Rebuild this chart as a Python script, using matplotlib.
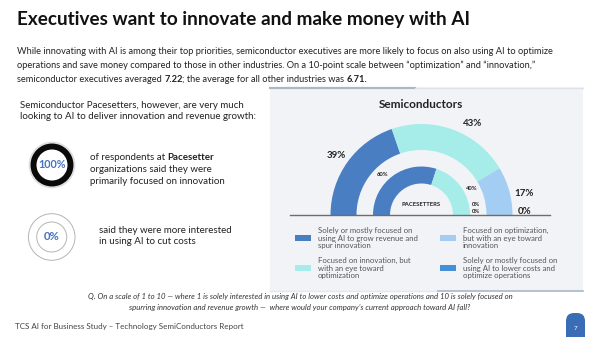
import matplotlib
matplotlib.use("Agg")
import matplotlib.pyplot as plt
from matplotlib.patches import Wedge, Rectangle, FancyBboxPatch, Circle

# ---------------- data ----------------
categories = [
    "Solely or mostly focused on\nusing AI to grow revenue and\nspur innovation",
    "Focused on innovation, but\nwith an eye toward\noptimization",
    "Focused on optimization,\nbut with an eye toward\ninnovation",
    "Solely or mostly focused on\nusing AI to lower costs and\noptimize operations",
]
semis_all = [39, 43, 17, 0]
pacesetters = [60, 40, 0, 0]
pacesetter_innovation = 100
pacesetter_cut_costs = 0
semis_avg = 7.22
others_avg = 6.71

colors = ['#4a7ec2', '#a6ece9', '#a3cdf2', '#4690da']

W, H = 600, 337
plt.rcParams['font.family'] = ['Lato', 'DejaVu Sans']
fig = plt.figure(figsize=(6, 3.37), dpi=100)
ax = fig.add_axes([0, 0, 1, 1])

def Y(y):
    return H - y

# ---------------- panel background ----------------
ax.add_patch(Rectangle((270, Y(291)), 313, 204, facecolor='#f2f3f7', edgecolor='none', zorder=0))
ax.plot([270, 415], [Y(87.5), Y(87.5)], color='#a9b8c8', lw=1.6, zorder=1)
ax.plot([415, 583], [Y(87.5), Y(87.5)], color='#dde2ea', lw=1.0, zorder=1)
ax.plot([270, 438], [Y(291), Y(291)], color='#e3e7ee', lw=1.0, zorder=1)
ax.plot([438, 583], [Y(291), Y(291)], color='#a9b8c8', lw=1.2, zorder=1)

# ---------------- donuts ----------------
cx, cy = 421.5, Y(215)
R_out, w_out = 91, 26
R_in, w_in = 48.5, 17

def half_donut(vals, R, width):
    wedges, _ = ax.pie(vals + [sum(vals)], colors=colors + ['none'], startangle=180,
                       counterclock=False, radius=R, center=(cx, cy),
                       wedgeprops=dict(width=width, edgecolor='none', linewidth=0))
    wedges[-1].set_visible(False)
    return wedges

half_donut(semis_all, R_out, w_out)
half_donut(pacesetters, R_in, w_in)
ax.set_xlim(0, W)
ax.set_ylim(0, H)
ax.set_aspect('auto')
ax.axis('off')

ax.plot([290, 550], [cy, cy], color='#6d6d6d', lw=1.0, zorder=3)

lbl_kw = dict(ha='center', va='center', color='#222222', fontweight='bold')
outer_pos = [(336, 156), (473, 124), (524, 193), (525, 211)]
for v, (px, py) in zip(semis_all, outer_pos):
    ax.text(px, Y(py), f"{v}%", fontsize=7, **lbl_kw)
inner_pos = [(382.5, 175), (471.5, 188.5), (476.5, 205), (476.5, 211.5)]
for v, (px, py) in zip(pacesetters, inner_pos):
    ax.text(px, Y(py), f"{v}%", fontsize=4.2, **lbl_kw)
ax.text(421, Y(205), "PACESETTERS", fontsize=4.2, **lbl_kw)
ax.text(421, Y(105), "Semiconductors", fontsize=8.5, ha='center', va='center',
        color='#222222', fontweight='bold')

# ---------------- legend ----------------
leg_pos = [(295, 238), (295, 268), (440, 238), (440, 268)]
for cat, col, (lx, ly) in zip(categories, colors, leg_pos):
    ax.add_patch(Rectangle((lx, Y(ly) - 3.3), 16, 6.6, facecolor=col, edgecolor='none'))
    ax.text(lx + 23, Y(ly), cat, fontsize=5.6, color='#555555', ha='left', va='center',
            linespacing=1.15)

# ---------------- title & paragraph ----------------
renderer = fig.canvas.get_renderer()

def runs(x, y, parts, size, color):
    for txt, bold in parts:
        t = ax.text(x, Y(y), txt, fontsize=size, fontweight='bold' if bold else 'normal',
                    color=color, ha='left', va='center')
        x += t.get_window_extent(renderer=renderer).width

ax.text(17, Y(19), "Executives want to innovate and make money with AI", fontsize=13.6,
        fontweight='bold', color='#111111', ha='left', va='center')
pc = '#222222'
ps = 6.65
runs(17, 52, [("While innovating with AI is among their top priorities, semiconductor executives are more likely to focus on also using AI to optimize", False)], ps, pc)
runs(17, 65.5, [("operations and save money compared to those in other industries. On a 10-point scale between \u201coptimization\u201d and \u201cinnovation,\u201d", False)], ps, pc)
runs(17, 79, [("semiconductor executives averaged ", False), (f"{semis_avg:.2f}", True),
              ("; the average for all other industries was ", False), (f"{others_avg:.2f}.", True)], ps, pc)

# ---------------- left side ----------------
ls = 7.0
runs(20.5, 105, [("Semiconductor Pacesetters, however, are very much", False)], ls, pc)
runs(20.5, 116.5, [("looking to AI to deliver innovation and revenue growth:", False)], ls, pc)

# circle 1
c1 = (52, Y(165))
ax.add_patch(Circle(c1, 22.5, facecolor='none', edgecolor='#d0d0d0', lw=1.2, alpha=0.7))
ax.add_patch(Wedge(c1, 21.5, 0, 360, width=6, facecolor='#0a0a0a', edgecolor='none'))
ax.text(c1[0], c1[1], f"{pacesetter_innovation}%", fontsize=7.8, fontweight='bold',
        color='#4472c4', ha='center', va='center')
runs(90, 157.5, [("of respondents at ", False), ("Pacesetter", True)], ls, pc)
runs(90, 169.5, [("organizations said they were", False)], ls, pc)
runs(90, 181, [("primarily focused on innovation", False)], ls, pc)

# circle 2
c2 = (51.7, Y(237))
ax.add_patch(Circle(c2, 23.3, facecolor='none', edgecolor='#b5b5b5', lw=0.7))
ax.add_patch(Circle(c2, 15, facecolor='none', edgecolor='#b5b5b5', lw=0.7))
ax.text(c2[0], c2[1], f"{pacesetter_cut_costs}%", fontsize=8.2, fontweight='bold',
        color='#4472c4', ha='center', va='center')
runs(99, 230.5, [("said they were more interested", False)], ls, pc)
runs(99, 242, [("in using AI to cut costs", False)], ls, pc)

# ---------------- question & footer ----------------
ax.text(300, Y(296), "Q. On a scale of 1 to 10 \u2014 where 1 is solely interested in using AI to lower costs and optimize operations and 10 is solely focused on",
        fontsize=5.6, style='italic', color='#333333', ha='center', va='center')
ax.text(300, Y(307.5), "spurring innovation and revenue growth \u2014  where would your company\u2019s current approach toward AI fall?",
        fontsize=5.6, style='italic', color='#333333', ha='center', va='center')
ax.text(15, Y(327), "TCS AI for Business Study \u2013 Technology SemiConductors Report", fontsize=5.8,
        color='#444444', ha='left', va='center')

ax.add_patch(FancyBboxPatch((566, Y(337) - 8), 19, 32, boxstyle="round,pad=0,rounding_size=8",
                            facecolor='#3a6db5', edgecolor='none', clip_on=True))
ax.text(575.5, Y(328), "7", fontsize=4.5, color='white', ha='center', va='center')

fig.savefig("out.png", dpi=100)
